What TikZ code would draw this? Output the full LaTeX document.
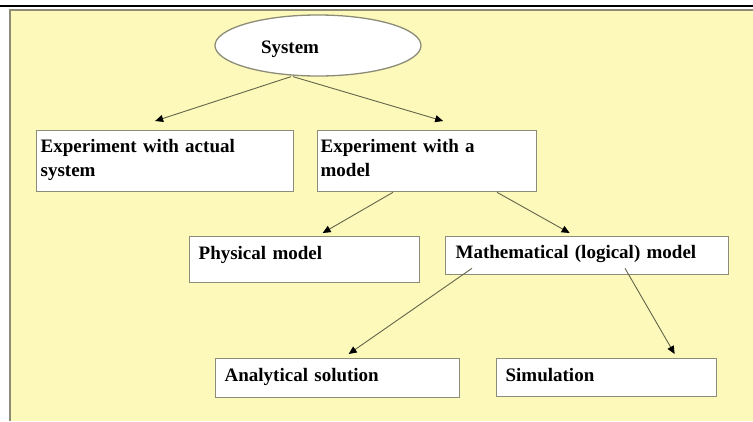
\documentclass[tikz,border=0pt]{standalone}
\usepackage{fontspec}
\setmainfont{Liberation Serif}
\usetikzlibrary{arrows.meta,shapes.geometric}

\definecolor{paper}{RGB}{252,249,186}
\definecolor{edge}{RGB}{140,140,120}
\definecolor{wire}{RGB}{100,100,75}

\begin{document}
\begin{tikzpicture}[x=1pt,y=-1pt,
        txt/.style={font=\bfseries\fontsize{19}{24}\selectfont},
        box/.style={txt,draw=edge,line width=1.3pt,fill=white,anchor=north west,align=left,inner ysep=0pt},
        arr/.style={draw=wire,line width=0.9pt,-{Triangle[length=8pt,width=7pt,color=black]}}]
            \useasboundingbox (0,0) rectangle (753,421);
            \fill[white] (0,0) rectangle (753,421);
            \fill[paper] (10,10) rectangle (753,421);
            \draw[edge,line width=1.5pt] (10,421) -- (10,10) -- (753,10);
            \draw[line width=2pt] (0,6) -- (753,6);
            \node[txt,ellipse,draw=edge,line width=1.3pt,fill=white,minimum width=206pt,minimum height=61pt,inner sep=0pt,text width=114pt,align=left,text height=18pt,text depth=2pt] (sys) at (318,45.5) {System};
            \node[box,inner xsep=4pt,text width=249pt,text height=22pt,text depth=39pt] (act) at (36,130) {Experiment with actual\\system};
            \node[box,inner xsep=3pt,text width=213pt,text height=22pt,text depth=39pt] (mdl) at (317,130) {Experiment with a\\model};
            \node[box,inner xsep=9pt,text width=212pt,text height=23pt,text depth=23pt] (phy) at (189,236) {Physical model};
            \node[box,inner xsep=10pt,text width=263pt,text height=22pt,text depth=16pt] (math) at (445,236) {Mathematical (logical) model};
            \node[box,inner xsep=9pt,text width=226pt,text height=23pt,text depth=16pt] (ana) at (215,358) {Analytical solution};
            \node[box,inner xsep=9pt,text width=202pt,text height=23pt,text depth=15pt] (sim) at (496,358) {Simulation};
            \draw[arr] ([xshift=-27pt]sys.south) -- ([shift={(-10,-9)}]act.north);
            \draw[arr] ([xshift=-25pt]sys.south) -- ([shift={(16,-9)}]mdl.north);
            \draw[arr] ([xshift=76pt]mdl.south west) -- ([shift={(18,-3)}]phy.north);
            \draw[arr] ([xshift=180pt]mdl.south west) -- ([shift={(-17.5,-3)}]math.north);
            \draw[arr] ([shift={(27,-7)}]math.south west) -- ([shift={(11,-4)}]ana.north);
            \draw[arr] ([shift={(180,-7)}]math.south west) -- ([shift={(68,-4)}]sim.north);
        \end{tikzpicture}
\end{document}
